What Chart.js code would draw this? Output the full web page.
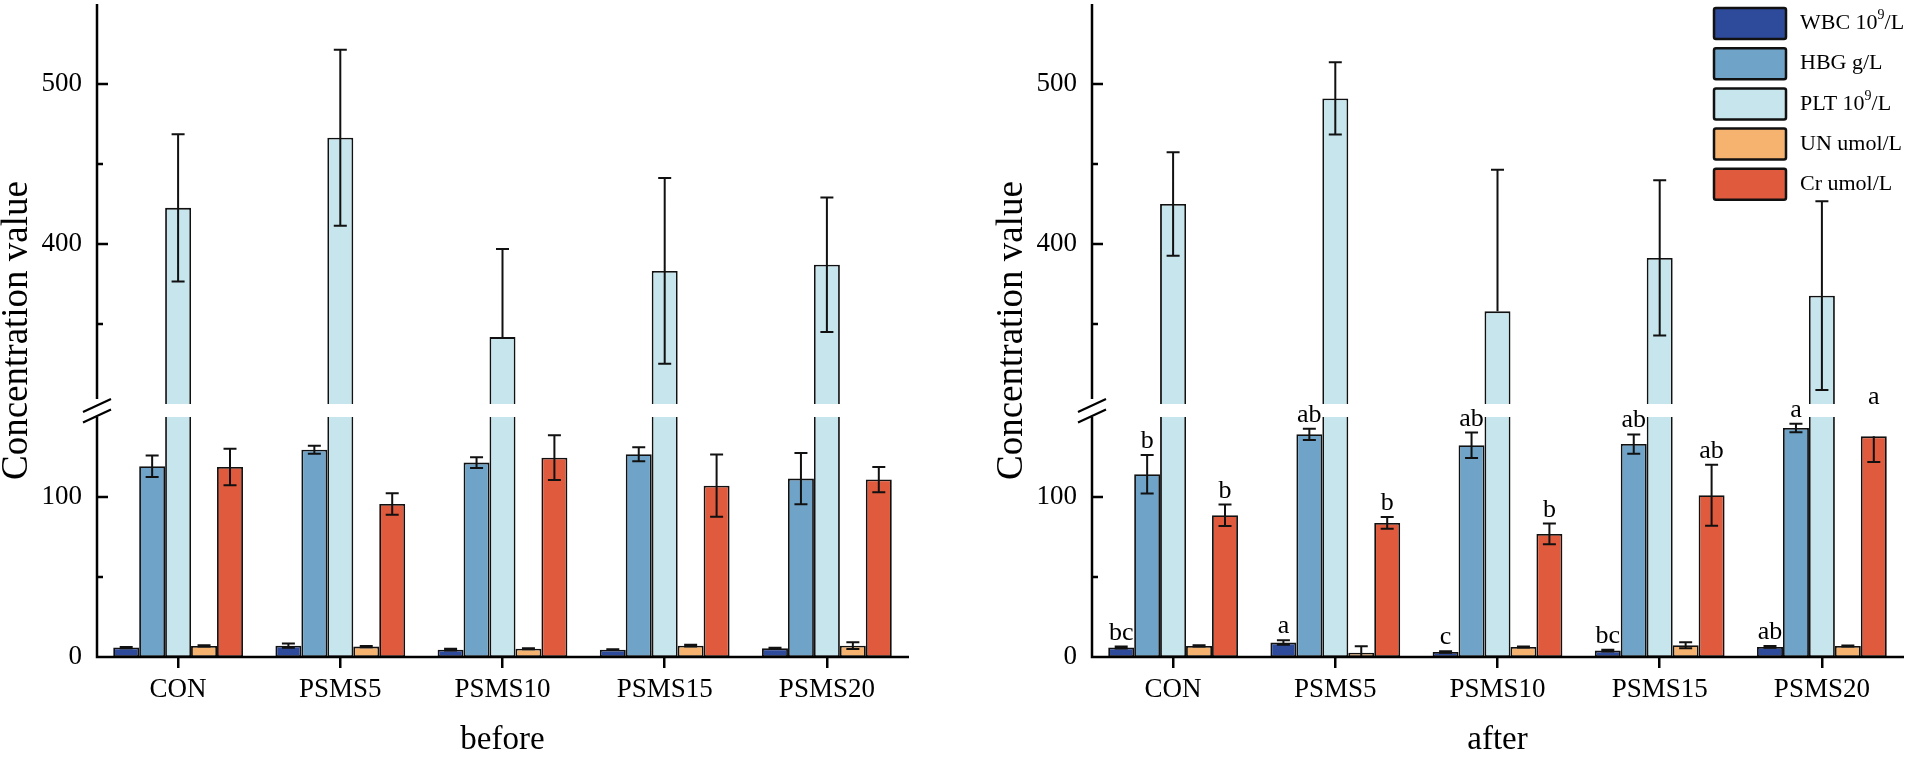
<!DOCTYPE html>
<html>
<head>
<meta charset="utf-8">
<title>Blood indices before / after</title>
<script src="https://cdn.jsdelivr.net/npm/chart.js@4.4.1/dist/chart.umd.min.js"></script>
<style>
  html, body { margin: 0; padding: 0; background: #fff; }
  body { width: 1908px; height: 757px; position: relative; overflow: hidden; }
  .panel { position: absolute; top: 0; height: 757px; }
  #panelBefore { left: 0; width: 995px; }
  #panelAfter { left: 995px; width: 913px; }
</style>
</head>
<body>
<div class="panel" id="panelBefore"><canvas id="chartBefore"></canvas></div>
<div class="panel" id="panelAfter"><canvas id="chartAfter"></canvas></div>
<script>
// ====================================
// DATA
// ====================================
const categories = ["CON", "PSMS5", "PSMS10", "PSMS15", "PSMS20"];
const seriesNames = ["WBC 10^9/L", "HBG g/L", "PLT 10^9/L", "UN umol/L", "Cr umol/L"];
const yTickValues = [0, 50, 100, 350, 400, 450, 500];
const yTickLabels = [0, 100, 400, 500];

// before
const wbcBefore = [5.9, 7.1, 4.6, 4.6, 5.4];
const wbcBeforeSd = [0.4, 1.3, 0.5, 0.3, 0.4];
const hbgBefore = [119.2, 129.6, 121.5, 126.7, 111.5];
const hbgBeforeSd = [6.7, 2.5, 3.3, 4.4, 16];
const pltBefore = [422.6, 466.4, 341.8, 383.2, 387];
const pltBeforeSd = [46, 55, 55, 58, 42];
const unBefore = [6.9, 6.5, 5.2, 7.1, 7.1];
const unBeforeSd = [0.4, 0.4, 0.3, 0.5, 2.1];
const crBefore = [118.8, 95.6, 124.6, 107.1, 110.9];
const crBeforeSd = [11.4, 6.7, 14, 19.4, 7.9];

// after
const wbcAfter = [5.9, 9.0, 3.1, 4.0, 6.3];
const wbcAfterSd = [0.6, 1.4, 0.5, 0.6, 0.5];
const hbgAfter = [114.2, 139.2, 132.3, 133.1, 143.1];
const hbgAfterSd = [12, 3.5, 8, 6, 2.7];
const pltAfter = [425, 491, 357.9, 391.3, 367.7];
const pltAfterSd = [32.3, 22.6, 88.5, 48.5, 59];
const unAfter = [6.9, 2.7, 6.3, 7.3, 6.9];
const unAfterSd = [0.4, 4, 0.3, 1.9, 0.3];
const crAfter = [88.6, 83.8, 76.9, 101.1, 137.9];
const crAfterSd = [6.7, 3.7, 6.5, 19, 16];

// significance letters (after)
const wbcLettersAfter = ["bc", "a", "c", "bc", "ab"];
const hbgLettersAfter = ["b", "ab", "ab", "ab", "a"];
const crLettersAfter = ["b", "b", "b", "ab", "a"];

// ====================================
// STYLE
// ====================================
const FONT = "'Liberation Serif', 'Times New Roman', serif";
const seriesColors = ["#2E4A9A", "#6FA4C8", "#C6E5ED", "#F5B36F", "#E05B3E"];
const INK = "#111";

Chart.defaults.font.family = FONT;
Chart.defaults.color = "#000";

// ====================================
// BROKEN Y SCALE (0-150 | gap | 300-550)
// ====================================
const BREAK_LOW = 150;
const BREAK_HIGH = 300;
const GAP_PX = 13;

class BrokenScale extends Chart.LinearScale {
  segK() {
    return (this.bottom - this.top - GAP_PX) / ((BREAK_LOW - this.min) + (this.max - BREAK_HIGH));
  }
  getPixelForValue(value) {
    const k = this.segK();
    const lowTop = this.bottom - (BREAK_LOW - this.min) * k;
    if (value <= BREAK_LOW) return this.bottom - (value - this.min) * k;
    if (value < BREAK_HIGH) return lowTop - (value - BREAK_LOW) / (BREAK_HIGH - BREAK_LOW) * GAP_PX;
    return lowTop - GAP_PX - (value - BREAK_HIGH) * k;
  }
  getValueForPixel(pixel) {
    const k = this.segK();
    const lowTop = this.bottom - (BREAK_LOW - this.min) * k;
    if (pixel >= lowTop) return this.min + (this.bottom - pixel) / k;
    if (pixel > lowTop - GAP_PX) return BREAK_LOW + (lowTop - pixel) / GAP_PX * (BREAK_HIGH - BREAK_LOW);
    return BREAK_HIGH + (lowTop - GAP_PX - pixel) / k;
  }
  // lower segment extended straight up (used to place letters)
  getLowerLinearPixel(value) {
    return this.bottom - (value - this.min) * this.segK();
  }
}
BrokenScale.id = "broken";
BrokenScale.defaults = Chart.LinearScale.defaults;
Chart.register(BrokenScale);

// ====================================
// OVERLAY: gap, axes, error bars, letters, legend
// ====================================
function drawRichLabel(ctx, text, x, yMid) {
  const parts = text.split("^");
  let cx = x;
  ctx.textAlign = "left";
  ctx.textBaseline = "middle";
  ctx.font = "22px " + FONT;
  ctx.fillText(parts[0], cx, yMid);
  cx += ctx.measureText(parts[0]).width;
  if (parts.length > 1) {
    const sup = parts[1][0];
    const rest = parts[1].slice(1);
    ctx.font = "14px " + FONT;
    ctx.fillText(sup, cx, yMid - 8);
    cx += ctx.measureText(sup).width;
    ctx.font = "22px " + FONT;
    ctx.fillText(rest, cx, yMid);
  }
}

function makeOverlay(values, errors, letters, withLegend) {
  return {
    id: "overlay",
    afterDatasetsDraw(chart) {
      const ctx = chart.ctx;
      const area = chart.chartArea;
      const y = chart.scales.y;
      const gapTop = y.getPixelForValue(BREAK_HIGH);
      const gapBottom = y.getPixelForValue(BREAK_LOW);
      const inGap = (v) => v > BREAK_LOW && v < BREAK_HIGH;

      ctx.save();

      // white band through the bars
      ctx.fillStyle = "#fff";
      ctx.fillRect(area.left - 20, gapTop, area.right - area.left + 24, gapBottom - gapTop);

      // error bars
      ctx.strokeStyle = INK;
      ctx.lineWidth = 2;
      ctx.beginPath();
      errors.forEach(function (sdArr, di) {
        const meta = chart.getDatasetMeta(di);
        meta.data.forEach(function (bar, i) {
          const v = values[di][i];
          const sd = sdArr[i];
          const yMid = y.getPixelForValue(v);
          [v + sd, v - sd].forEach(function (end) {
            if (inGap(end)) return;
            const ye = y.getPixelForValue(Math.max(end, y.min));
            ctx.moveTo(bar.x, yMid);
            ctx.lineTo(bar.x, ye);
            if (end >= y.min) {
              ctx.moveTo(bar.x - 6.5, ye);
              ctx.lineTo(bar.x + 6.5, ye);
            }
          });
        });
      });
      ctx.stroke();

      // axes
      ctx.strokeStyle = "#000";
      ctx.lineWidth = 2.5;
      ctx.beginPath();
      ctx.moveTo(area.left, area.top);
      ctx.lineTo(area.left, gapTop - 5);
      ctx.moveTo(area.left, gapBottom);
      ctx.lineTo(area.left, area.bottom + 1.25);
      ctx.moveTo(area.left - 1.25, area.bottom);
      ctx.lineTo(area.right + 1, area.bottom);
      // y ticks, pointing inward
      yTickValues.forEach(function (v) {
        const py = y.getPixelForValue(v);
        const len = yTickLabels.includes(v) ? 11 : 6;
        ctx.moveTo(area.left, py);
        ctx.lineTo(area.left + len, py);
      });
      ctx.stroke();

      // break marks
      ctx.lineWidth = 2.2;
      ctx.beginPath();
      [gapTop + 1.5, gapBottom - 1].forEach(function (cy) {
        ctx.moveTo(area.left - 14, cy + 6.5);
        ctx.lineTo(area.left + 14, cy - 6.5);
      });
      ctx.stroke();

      // significance letters
      ctx.fillStyle = "#000";
      ctx.font = "26px " + FONT;
      ctx.textAlign = "center";
      ctx.textBaseline = "alphabetic";
      letters.forEach(function (arr, di) {
        if (!arr) return;
        const meta = chart.getDatasetMeta(di);
        meta.data.forEach(function (bar, i) {
          const top = values[di][i] + errors[di][i];
          ctx.fillText(arr[i], bar.x, y.getLowerLinearPixel(top) - 7);
        });
      });

      // legend
      if (withLegend) {
        seriesNames.forEach(function (name, i) {
          const bx = 719, by = 8 + i * 40.2, bw = 72, bh = 31;
          ctx.beginPath();
          ctx.roundRect(bx, by, bw, bh, 2);
          ctx.fillStyle = seriesColors[i];
          ctx.fill();
          ctx.lineWidth = 2.5;
          ctx.strokeStyle = INK;
          ctx.stroke();
          ctx.fillStyle = "#000";
          drawRichLabel(ctx, name, bx + 86, by + bh / 2);
        });
      }

      ctx.restore();
    },
  };
}

// ====================================
// PANELS
// ====================================
function makePanel(canvasId, title, values, errors, letters, withLegend, padRight) {
  const datasets = seriesNames.map(function (name, i) {
    return {
      label: name,
      data: values[i],
      backgroundColor: seriesColors[i],
      borderColor: INK,
      borderWidth: 1.8,
      borderSkipped: false,
      categoryPercentage: 0.8,
      barPercentage: 1,
    };
  });

  new Chart(document.getElementById(canvasId), {
    type: "bar",
    data: { labels: categories, datasets: datasets },
    options: {
      responsive: true,
      maintainAspectRatio: false,
      animation: false,
      devicePixelRatio: 1,
      layout: { padding: { top: 4, right: padRight, bottom: 0, left: 0 } },
      plugins: { legend: { display: false }, tooltip: { enabled: false } },
      scales: {
        x: {
          offset: true,
          afterFit: function (s) {
            s.height = 100;
            s.paddingLeft = 0;
            s.paddingRight = 0;
          },
          grid: {
            display: true,
            drawOnChartArea: false,
            offset: false,
            tickLength: 11,
            color: "#000",
            lineWidth: 2.5,
          },
          border: { display: false },
          ticks: { color: "#000", font: { size: 27 }, padding: 6, maxRotation: 0 },
          title: {
            display: true,
            text: title,
            color: "#000",
            font: { size: 33, lineHeight: 1 },
            padding: { top: 0, bottom: 0 },
          },
        },
        y: {
          type: "broken",
          min: 0,
          max: 550,
          afterBuildTicks: function (s) {
            s.ticks = yTickValues.map(function (v) { return { value: v }; });
          },
          afterFit: function (s) {
            s.width = 97;
            s.paddingTop = 0;
            s.paddingBottom = 0;
          },
          grid: { display: false, drawTicks: false },
          border: { display: false },
          ticks: {
            color: "#000",
            font: { size: 27 },
            padding: 15,
            autoSkip: false,
            callback: function (v) { return yTickLabels.includes(v) ? String(v) : ""; },
          },
          title: {
            display: true,
            text: "Concentration value",
            color: "#000",
            font: { size: 37, lineHeight: 1 },
            padding: { top: -1, bottom: 0 },
          },
        },
      },
    },
    plugins: [makeOverlay(values, errors, letters, withLegend)],
  });
}

makePanel(
  "chartBefore",
  "before",
  [wbcBefore, hbgBefore, pltBefore, unBefore, crBefore],
  [wbcBeforeSd, hbgBeforeSd, pltBeforeSd, unBeforeSd, crBeforeSd],
  [null, null, null, null, null],
  false,
  87
);

makePanel(
  "chartAfter",
  "after",
  [wbcAfter, hbgAfter, pltAfter, unAfter, crAfter],
  [wbcAfterSd, hbgAfterSd, pltAfterSd, unAfterSd, crAfterSd],
  [wbcLettersAfter, hbgLettersAfter, null, null, crLettersAfter],
  true,
  5
);
</script>
</body>
</html>
